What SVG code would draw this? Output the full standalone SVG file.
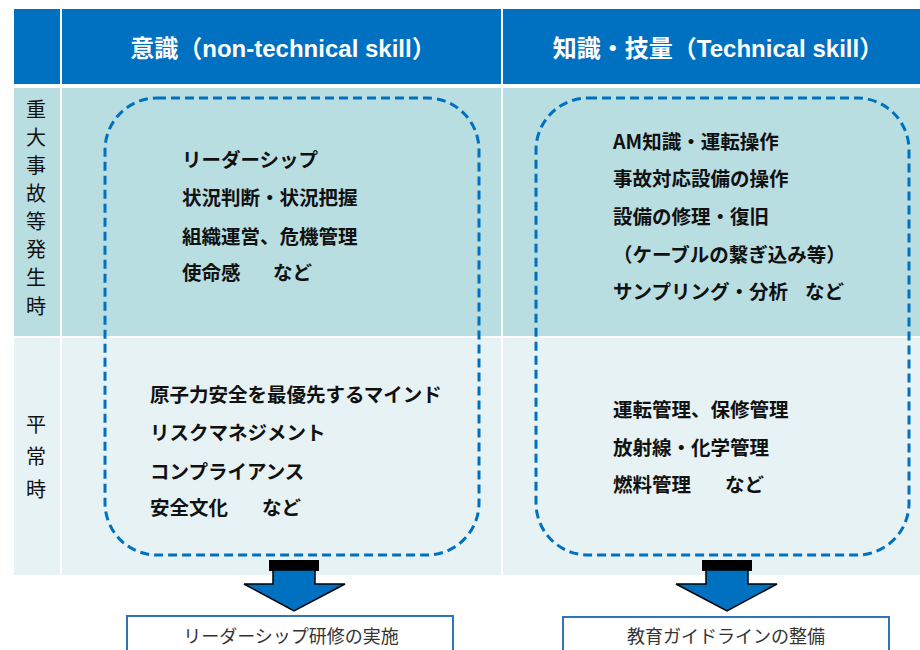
<svg xmlns="http://www.w3.org/2000/svg" width="920" height="650" viewBox="0 0 920 650">
<defs>
<style>
.hdr{fill:#0070C0}
.r1{fill:#B8DEE1}
.r2{fill:#E6F2F4}
.ht{font-family:"Liberation Sans","Noto Sans CJK JP",sans-serif;font-weight:bold;font-size:24px;fill:#FFFFFF;text-anchor:middle}
.lab{font-family:"Noto Sans CJK JP",sans-serif;font-size:20px;fill:#111111;text-anchor:middle}
.item{font-family:"Noto Sans CJK JP",sans-serif;font-weight:bold;font-size:19.5px;fill:#111111}
.dash{fill:none;stroke:#0070C0;stroke-width:3;stroke-dasharray:9 5}
.arrow{fill:#0070C0;stroke:#000000;stroke-width:1.5;stroke-linejoin:miter}
.cap{fill:#000000}
.box{fill:#FFFFFF;stroke:#2E75B6;stroke-width:2}
.bt{font-family:"Noto Sans CJK JP",sans-serif;font-size:18px;fill:#333333;text-anchor:middle}
</style>
</defs>
<rect width="920" height="650" fill="#FFFFFF"/>
<g id="table">
<rect class="hdr" x="14" y="9" width="46" height="75"/>
<rect class="hdr" x="62" y="9" width="439" height="75"/>
<rect class="hdr" x="503" y="9" width="417" height="75"/>
<rect class="r1" x="14" y="88" width="46" height="248"/>
<rect class="r1" x="62" y="88" width="439" height="248"/>
<rect class="r1" x="503" y="88" width="417" height="248"/>
<rect class="r2" x="14" y="338" width="46" height="237"/>
<rect class="r2" x="62" y="338" width="439" height="237"/>
<rect class="r2" x="503" y="338" width="417" height="237"/>
</g>
<g id="header-left"><text class="ht" x="283" y="57">意識（non-technical skill）</text></g>
<g id="header-right"><text class="ht" x="718" y="57">知識・技量（Technical skill）</text></g>
<g id="row-label-emergency">
<text class="lab" x="36" y="117">重</text>
<text class="lab" x="36" y="145">大</text>
<text class="lab" x="36" y="173">事</text>
<text class="lab" x="36" y="201">故</text>
<text class="lab" x="36" y="229">等</text>
<text class="lab" x="36" y="257">発</text>
<text class="lab" x="36" y="285">生</text>
<text class="lab" x="36" y="314">時</text>
</g>
<g id="row-label-normal">
<text class="lab" x="36" y="432">平</text>
<text class="lab" x="36" y="464">常</text>
<text class="lab" x="36" y="497">時</text>
</g>
<g id="node-nontechnical">
<rect class="dash" x="105" y="98" width="374" height="457" rx="52" ry="52"/>
<text class="item" x="182" y="167">リーダーシップ</text>
<text class="item" x="182" y="205">状況判断・状況把握</text>
<text class="item" x="182" y="244">組織運営、危機管理</text>
<text class="item" x="182" y="280">使命感　<tspan x="273">など</tspan></text>
<text class="item" x="150" y="402">原子力安全を最優先するマインド</text>
<text class="item" x="150" y="440">リスクマネジメント</text>
<text class="item" x="150" y="479">コンプライアンス</text>
<text class="item" x="150" y="515">安全文化　<tspan x="262">など</tspan></text>
</g>
<g id="node-technical">
<rect class="dash" x="536" y="98" width="373" height="457" rx="52" ry="52"/>
<text class="item" x="613" y="149">AM知識・運転操作</text>
<text class="item" x="613" y="186">事故対応設備の操作</text>
<text class="item" x="613" y="224">設備の修理・復旧</text>
<text class="item" x="613" y="262">（ケーブルの繋ぎ込み等）</text>
<text class="item" x="613" y="299">サンプリング・分析　<tspan x="805">など</tspan></text>
<text class="item" x="613" y="417">運転管理、保修管理</text>
<text class="item" x="613" y="455">放射線・化学管理</text>
<text class="item" x="613" y="492">燃料管理　<tspan x="725">など</tspan></text>
</g>
<g id="connectors">
<rect class="cap" x="269" y="560" width="50" height="11"/>
<polygon class="arrow" points="273,570 315,570 315,584 345,584 294,611 244,584 273,584"/>
<rect class="cap" x="702" y="560" width="50" height="11"/>
<polygon class="arrow" points="706,570 748,570 748,584 777,584 727,611 676,584 706,584"/>
</g>
<g id="node-leadership-training">
<rect class="box" x="127" y="616" width="326" height="40"/>
<text class="bt" x="291" y="643">リーダーシップ研修の実施</text>
</g>
<g id="node-education-guideline">
<rect class="box" x="563" y="617" width="326" height="40"/>
<text class="bt" x="726" y="643">教育ガイドラインの整備</text>
</g>
</svg>
